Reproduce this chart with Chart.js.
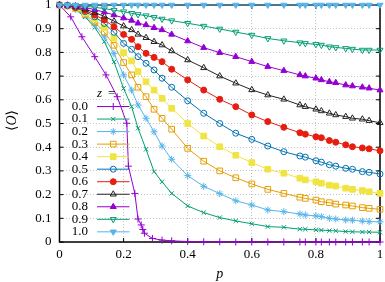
<!DOCTYPE html>
<html>
<head>
<meta charset="utf-8">
<script src="https://cdn.jsdelivr.net/npm/chart.js@4"></script>
<style>
html, body { margin: 0; padding: 0; background: #fff; }
</style>
</head>
<body>
<canvas id="c" width="385" height="282"></canvas>
<script>
// p values where the runs were sampled (z = 0.0 has its own, denser near the drop)
var pGrid = [0, 0.025, 0.05, 0.08, 0.11, 0.14, 0.17, 0.2, 0.225, 0.245, 0.27, 0.295, 0.32, 0.35,
             0.4, 0.45, 0.5, 0.55, 0.6, 0.65, 0.7, 0.75, 0.767, 0.8, 0.817, 0.842, 0.862, 0.893,
             0.914, 0.945, 0.966, 1.0];
var pZero = [0, 0.035, 0.07, 0.11, 0.145, 0.18, 0.21, 0.215, 0.235, 0.245, 0.255, 0.26, 0.265,
             0.29, 0.32, 0.35, 0.4, 0.45, 0.5, 0.55, 0.6, 0.65, 0.7, 0.75, 0.767, 0.8, 0.817,
             0.842, 0.862, 0.893, 0.914, 0.945, 0.966, 1.0];

var zLabels = ['0.0', '0.1', '0.2', '0.3', '0.4', '0.5', '0.6', '0.7', '0.8', '0.9', '1.0'];

var o00 = [1, 0.95, 0.866, 0.782, 0.705, 0.613, 0.501, 0.32, 0.205, 0.097, 0.072, 0.053, 0.037,
           0.015, 0.008, 0.005, 0.002, 0.001, 0.001, 0, 0, 0, 0, 0, 0, 0, 0, 0, 0, 0, 0, 0, 0, 0];
var o01 = [1, 0.995, 0.98, 0.95, 0.905, 0.845, 0.76, 0.648, 0.571, 0.48, 0.391, 0.297, 0.254, 0.205,
           0.152, 0.124, 0.103, 0.089, 0.077, 0.065, 0.062, 0.054, 0.054, 0.051, 0.05, 0.048, 0.047,
           0.044, 0.043, 0.042, 0.042, 0.041];
var o02 = [1, 0.996, 0.982, 0.955, 0.915, 0.865, 0.795, 0.705, 0.641, 0.578, 0.522, 0.465, 0.405, 0.349,
           0.28, 0.235, 0.204, 0.174, 0.156, 0.135, 0.128, 0.118, 0.114, 0.11, 0.107, 0.1, 0.097,
           0.093, 0.092, 0.088, 0.086, 0.085];
var o03 = [1, 0.996, 0.984, 0.96, 0.928, 0.885, 0.83, 0.757, 0.705, 0.653, 0.613, 0.56, 0.522, 0.476,
           0.395, 0.341, 0.3, 0.271, 0.245, 0.222, 0.205, 0.189, 0.184, 0.177, 0.17, 0.166, 0.16,
           0.156, 0.152, 0.145, 0.142, 0.138];
var o04 = [1, 0.997, 0.986, 0.966, 0.94, 0.905, 0.86, 0.799, 0.764, 0.719, 0.676, 0.641, 0.606, 0.564,
           0.5, 0.447, 0.402, 0.366, 0.335, 0.307, 0.29, 0.269, 0.262, 0.254, 0.248, 0.24, 0.236,
           0.227, 0.222, 0.217, 0.212, 0.205];
var o05 = [1, 0.997, 0.988, 0.972, 0.95, 0.922, 0.885, 0.838, 0.813, 0.782, 0.754, 0.726, 0.691, 0.653,
           0.596, 0.543, 0.5, 0.459, 0.433, 0.405, 0.381, 0.363, 0.358, 0.343, 0.337, 0.326, 0.32,
           0.311, 0.307, 0.297, 0.294, 0.287];
var o06 = [1, 0.998, 0.99, 0.977, 0.958, 0.937, 0.908, 0.876, 0.855, 0.824, 0.796, 0.779, 0.761, 0.729,
           0.684, 0.641, 0.602, 0.571, 0.536, 0.508, 0.484, 0.461, 0.455, 0.444, 0.44, 0.428, 0.421,
           0.41, 0.402, 0.397, 0.393, 0.385];
var o07 = [1, 0.998, 0.993, 0.982, 0.968, 0.952, 0.932, 0.911, 0.895, 0.876, 0.862, 0.845, 0.831, 0.806,
           0.768, 0.735, 0.7, 0.67, 0.642, 0.62, 0.602, 0.578, 0.571, 0.56, 0.553, 0.543, 0.536,
           0.529, 0.522, 0.518, 0.512, 0.503];
var o08 = [1, 0.999, 0.996, 0.99, 0.98, 0.97, 0.958, 0.945, 0.935, 0.923, 0.916, 0.904, 0.895, 0.876,
           0.848, 0.82, 0.799, 0.782, 0.761, 0.74, 0.723, 0.705, 0.7, 0.691, 0.684, 0.676, 0.672,
           0.662, 0.658, 0.653, 0.649, 0.641];
var o09 = [1, 1, 0.998, 0.995, 0.99, 0.985, 0.978, 0.972, 0.965, 0.96, 0.955, 0.948, 0.941, 0.934,
           0.923, 0.911, 0.899, 0.886, 0.873, 0.859, 0.849, 0.841, 0.838, 0.834, 0.831, 0.824, 0.821,
           0.817, 0.814, 0.81, 0.81, 0.81];
var o10 = [1, 1, 1, 1, 1, 1, 1, 1, 1, 1, 1, 1, 1, 1, 1, 1, 1, 1, 1, 1, 1, 1, 1, 1, 1, 1, 1, 1, 1, 1, 1, 1];

var series = [o00, o01, o02, o03, o04, o05, o06, o07, o08, o09, o10];

// gnuplot-like look
var colors = ['#9400d3', '#009e73', '#56b4e9', '#e69f00', '#f0e442', '#0072b2',
              '#e51e10', '#222222', '#9400d3', '#009e73', '#56b4e9'];
var styles = ['cross', 'crossRot', 'star', 'rect', 'rect', 'circle', 'circle',
              'triangle', 'triangle', 'triangle', 'triangle'];
var filled = [false, false, false, false, true, false, true, false, true, false, true];
var rots = [0, 0, 0, 0, 0, 0, 0, 0, 0, 180, 180];
var radii = [3.5, 3, 3.5, 4, 4, 3, 3, 3.5, 3.5, 3.5, 3.5];

var serif = "'Liberation Serif', 'DejaVu Serif', serif";

var datasets = series.map(function (vals, i) {
  var xs = i === 0 ? pZero : pGrid;
  return {
    label: zLabels[i],
    data: vals.map(function (v, j) { return { x: xs[j], y: v }; }),
    borderColor: colors[i],
    backgroundColor: colors[i],
    borderWidth: 1,
    pointStyle: styles[i],
    pointRadius: radii[i],
    pointBorderWidth: 1,
    pointBorderColor: colors[i],
    pointBackgroundColor: filled[i] ? colors[i] : 'rgba(0,0,0,0)',
    pointRotation: rots[i],
    tension: 0,
    clip: 8,
    order: 10 - i
  };
});

var frame = {
  id: 'frame',
  beforeDatasetsDraw: function (chart) {
    var c = chart.ctx, a = chart.chartArea, sx = chart.scales.x, sy = chart.scales.y;
    c.save();
    c.strokeStyle = '#000';
    c.lineWidth = 1;
    c.beginPath();
    sx.ticks.forEach(function (t) {
      var x = sx.getPixelForValue(t.value);
      c.moveTo(x, a.bottom); c.lineTo(x, a.bottom - 4);
      c.moveTo(x, a.top); c.lineTo(x, a.top + 4);
    });
    sy.ticks.forEach(function (t) {
      var y = sy.getPixelForValue(t.value);
      c.moveTo(a.left, y); c.lineTo(a.left + 4, y);
      c.moveTo(a.right, y); c.lineTo(a.right - 4, y);
    });
    c.stroke();
    c.lineWidth = 1.5;
    c.strokeRect(a.left, a.top, a.right - a.left, a.bottom - a.top);
    c.restore();
  },
  afterDatasetsDraw: function (chart) {
    var c = chart.ctx, a = chart.chartArea;
    var H = Chart.helpers;
    c.save();
    c.fillStyle = '#000';
    c.textBaseline = 'middle';

    // key
    var textR = a.left + 28.5, lineL = a.left + 37.5, lineR = a.left + 70, row0 = a.top + 89, step = 12.53;
    c.font = 'italic 13px ' + serif;
    c.textAlign = 'left';
    c.fillText('z', lineL, row0);
    c.font = '13px ' + serif;
    c.fillText('=', lineL + 11, row0);
    datasets.forEach(function (d, i) {
      var y = row0 + step * (i + 1);
      c.fillStyle = '#000';
      c.textAlign = 'right';
      c.fillText(d.label, textR, y);
      c.strokeStyle = colors[i];
      c.lineWidth = 1;
      c.beginPath(); c.moveTo(lineL, y); c.lineTo(lineR, y); c.stroke();
      c.fillStyle = filled[i] ? colors[i] : 'rgba(0,0,0,0)';
      H.drawPoint(c, { pointStyle: styles[i], rotation: rots[i], radius: radii[i], borderWidth: 1 },
        (lineL + lineR) / 2, y);
    });

    // axis titles
    c.fillStyle = '#000';
    c.font = 'italic 14px ' + serif;
    c.textAlign = 'center';
    c.textBaseline = 'alphabetic';
    c.fillText('p', (a.left + a.right) / 2, 278);

    c.translate(12, (a.top + a.bottom) / 2 - 3);
    c.rotate(-Math.PI / 2);
    c.textBaseline = 'middle';
    c.textAlign = 'left';
    c.font = '14px ' + serif;
    var w1 = c.measureText('\u27e8').width, w3 = c.measureText('\u27e9').width;
    c.font = 'italic 14px ' + serif;
    var w2 = c.measureText('O').width;
    var x0 = -(w1 + w2 + w3) / 2;
    c.font = '14px ' + serif;
    c.fillText('\u27e8', x0, 0);
    c.font = 'italic 14px ' + serif;
    c.fillText('O', x0 + w1, 0);
    c.font = '14px ' + serif;
    c.fillText('\u27e9', x0 + w1 + w2, 0);
    c.restore();
  }
};

function fmt(v) { return String(Number(v.toFixed(1))); }

new Chart(document.getElementById('c'), {
  type: 'line',
  data: { datasets: datasets },
  options: {
    responsive: false,
    animation: false,
    devicePixelRatio: 1,
    layout: { padding: { left: 0, right: 4, top: 5, bottom: 0 } },
    plugins: { legend: { display: false }, tooltip: { enabled: false } },
    scales: {
      x: {
        type: 'linear', min: 0, max: 1,
        ticks: { stepSize: 0.2, color: '#000', padding: 5, maxRotation: 0,
                 font: { family: serif, size: 13 }, callback: fmt },
        grid: { color: '#c4c4c4', lineWidth: 1, drawTicks: false },
        border: { display: false, dash: [1, 2] },
        afterFit: function (s) { s.height = 40; s.paddingLeft = 0; s.paddingRight = 0; }
      },
      y: {
        type: 'linear', min: 0, max: 1,
        ticks: { stepSize: 0.1, color: '#000', padding: 8,
                 font: { family: serif, size: 13 }, callback: fmt },
        grid: { color: '#c4c4c4', lineWidth: 1, drawTicks: false },
        border: { display: false, dash: [1, 2] },
        afterFit: function (s) { s.width = 59.5; s.paddingTop = 0; s.paddingBottom = 0; }
      }
    }
  },
  plugins: [frame]
});
</script>
</body>
</html>
